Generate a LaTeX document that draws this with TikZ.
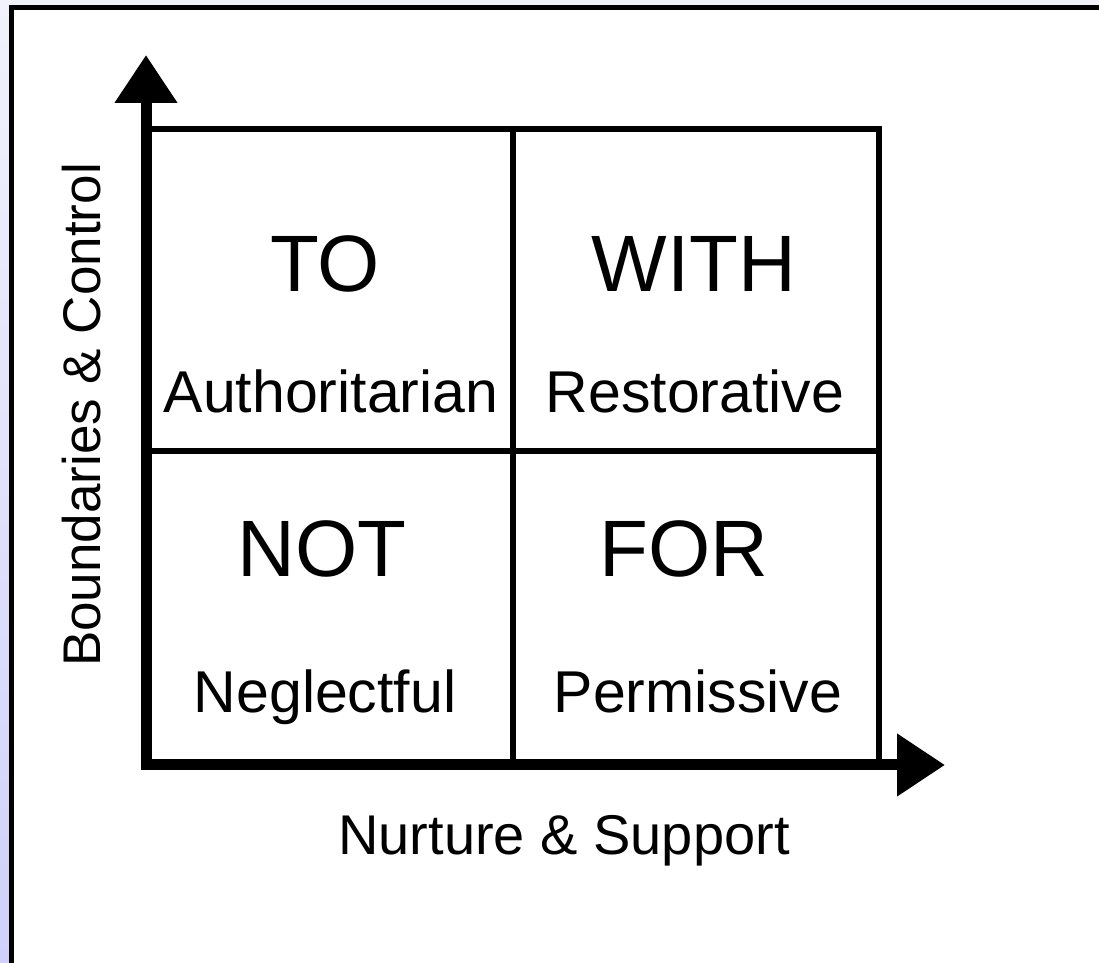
\documentclass[tikz,border=0pt]{standalone}
\usepackage{fontspec}
\setmainfont{Liberation Sans}
\usetikzlibrary{arrows.meta}
\definecolor{bgtop}{RGB}{242,242,252}
\definecolor{bgbottom}{RGB}{208,208,250}

\begin{document}
\begin{tikzpicture}[x=0.5pt,y=0.5pt,
    axis/.style={line width=5.5pt, line join=miter,
        {Triangle[width=30pt,length=24pt]}-{Triangle[width=30pt,length=24pt]}},
    grid/.style={line width=3pt},
    big/.style={font=\fontsize{40pt}{48pt}\selectfont, anchor=base, inner sep=0pt},
    small/.style={font=\fontsize{29.5pt}{35pt}\selectfont, anchor=base, inner sep=0pt},
    axislabel/.style={font=\fontsize{28pt}{34pt}\selectfont, anchor=base, inner sep=0pt}]
    \useasboundingbox (0,0) rectangle (1099,963);
    \clip (0,0) rectangle (1099,963);
    \shade[top color=bgtop, bottom color=bgbottom] (0,0) rectangle (1099,963);
    \draw[line width=2.5pt, fill=white] (11.5,-20) rectangle (1120,955.5); % white panel

    % corners of the grid
    \coordinate (O) at (146,198);
    \coordinate (ytip) at (146,908);
    \coordinate (xtip) at (945,198);
    \coordinate (NE) at (879,834);
    \coordinate (midW) at (146,512);
    \coordinate (midE) at (879,512);
    \coordinate (midS) at (513,198);
    \coordinate (midN) at (513,834);

    \draw[grid] (O) rectangle (NE);
    \draw[grid] (midW) -- (midE);
    \draw[grid] (midS) -- (midN);
    \draw[axis] (ytip) -- (O) -- (xtip); % the two axes

    \node[big] (to) at (325,671) {TO};
    \node[small] (auth) at (331,550) {Authoritarian};
    \node[big] (with) at (694,671) {WITH};
    \node[small] (rest) at (695,550) {Restorative};
    \node[big] (not) at (322,386) {NOT};
    \node[small] (negl) at (325,250) {Neglectful};
    \node[big] (for) at (684,386) {FOR};
    \node[small] (perm) at (698,250) {Permissive};

    \node[axislabel] (xlab) at (564,108) {Nurture \& Support};
    \node[axislabel, rotate=90, font=\fontsize{26.5pt}{32pt}\selectfont] (ylab) at (100,548) {Boundaries \& Control};
\end{tikzpicture}
\end{document}
